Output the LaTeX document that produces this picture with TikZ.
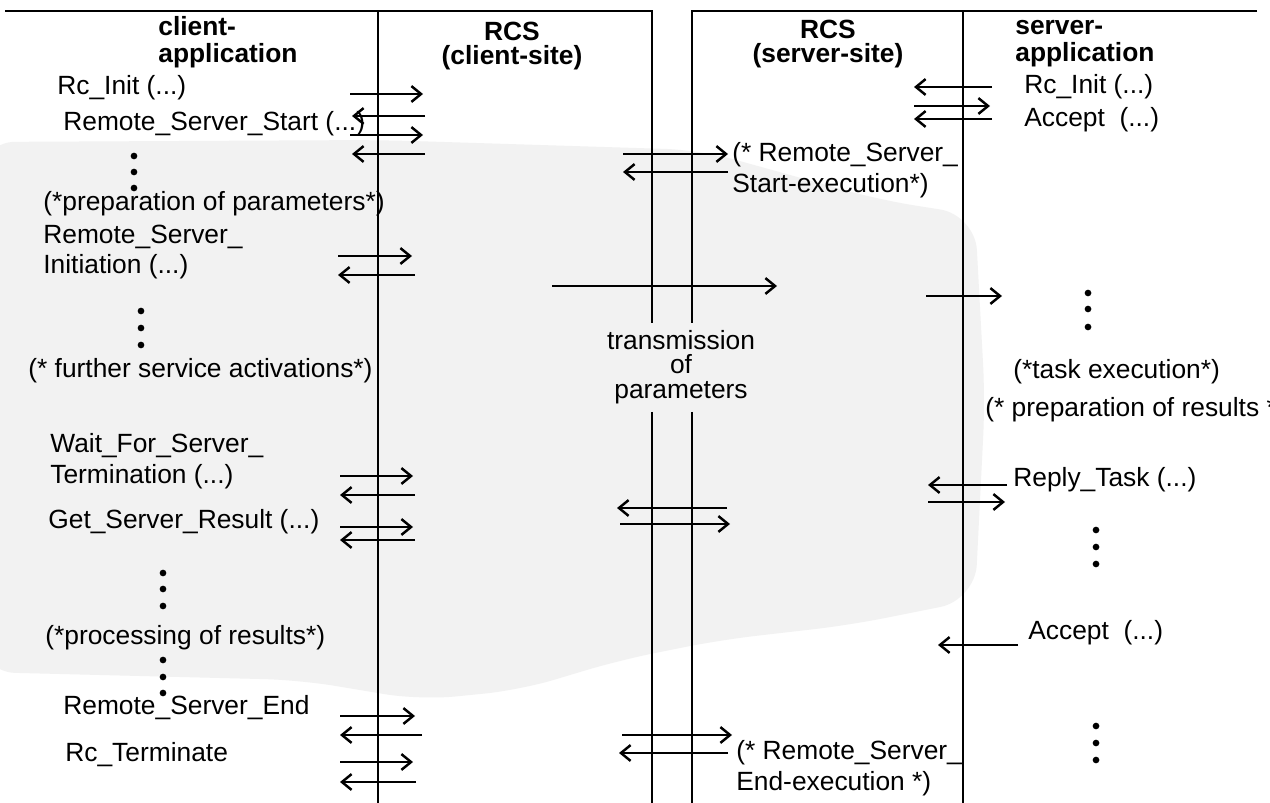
\documentclass[tikz,border=0pt]{standalone}
\usepackage{fontspec}
\setmainfont{Liberation Sans}
\usetikzlibrary{arrows.meta}

\tikzset{
  msg/.style={line width=1.4pt,-{Straight Barb[length=5.5pt,width=9pt]}},
  lane/.style={line width=1.4pt},
  txt/.style={anchor=west,inner sep=0pt,align=left,font=\fontsize{15}{17.5}\selectfont},
  head/.style={inner sep=0pt,font=\bfseries\fontsize{15}{15.5}\selectfont},
}

\begin{document}
\begin{tikzpicture}[x=0.02cm,y=-0.02cm]
\useasboundingbox (0,0) rectangle (1270,803);
\clip (0,0) rectangle (1270,803);
\fill[white] (0,0) rectangle (1270,803);
% shaded area behind the exchange
\fill[gray!10,rounded corners=20pt] (-20,142) -- (380,140) -- (700,150) -- (880,200) -- (975,215) -- (985,400) -- (975,600) -- (850,625) -- (720,640) -- (620,660) -- (520,690) -- (420,700) -- (300,680) -- (-20,672) -- cycle;
% lanes
\draw[lane] (5,11) -- (652,11) -- (652,323);
\draw[lane] (1257,11) -- (692,11) -- (692,323);
\draw[lane] (652,412) -- (652,803);
\draw[lane] (692,412) -- (692,803);
\draw[lane] (378,11) -- (378,803);
\draw[lane] (963,11) -- (963,803);
% headers
\node[head,anchor=west,align=left] (capp) at (158,42) {client-\\application};
\node[head,align=center,font=\bfseries\fontsize{15}{14}\selectfont] (crcs) at (512,46) {RCS\\(client-site)};
\node[head,align=center,font=\bfseries\fontsize{15}{14}\selectfont] (srcs) at (828,44) {RCS\\(server-site)};
\node[head,anchor=west,align=left] (sapp) at (1015,44) {server-\\application};
% client side
\node[txt] (rcinit) at (57,88) {Rc\_Init (...)};
\node[txt] (rsstart) at (63,124) {Remote\_Server\_Start (...)};
\node[txt] (prepparam) at (43,204) {(*preparation of parameters*)};
\node[txt] (rsinit) at (43,252) {Remote\_Server\_\\Initiation (...)};
\node[txt] (further) at (28,371) {(* further service activations*)};
\node[txt] (waitterm) at (50,461) {Wait\_For\_Server\_\\Termination (...)};
\node[txt] (getres) at (48,522) {Get\_Server\_Result (...)};
\node[txt] (procres) at (45,638) {(*processing of results*)};
\node[txt] (rsend) at (63,708) {Remote\_Server\_End};
\node[txt] (rcterm) at (65,755) {Rc\_Terminate};
% between the two sites
\node[txt] (startexec) at (732,170) {(* Remote\_Server\_\\Start-execution*)};
\node[txt,anchor=center,align=center,font=\fontsize{15}{14}\selectfont] (transm) at (681,367) {transmission\\of\\parameters};
\node[txt] (endexec) at (736,768) {(* Remote\_Server\_\\End-execution *)};
% server side
\node[txt] (srvinit) at (1024,87) {Rc\_Init (...)};
\node[txt] (accept) at (1024,120) {Accept~ (...)};
\node[txt] (taskexec) at (1013,372) {(*task execution*)};
\node[txt] (prepres) at (985,410) {(* preparation of results *)};
\node[txt] (reply) at (1013,480) {Reply\_Task (...)};
\node[txt] (acceptb) at (1028,633) {Accept\ \ (...)};
% dots
\foreach \x/\y in {134/156,134/172,134/188,141/311,141/328,141/345,163/573,163/589,163/606,163/660,163/677,163/693,1088/293,1088/309,1088/327,1096/530,1096/547,1096/564,1096/726,1096/743,1096/760}
  \fill (\x,\y) circle (1.9pt);
% messages
\foreach \a/\b/\y in {350/423/94,425/352/116,350/423/135,425/352/154,338/412/256,415/338/275,340/413/476,415/340/495,340/413/527,415/340/540,340/415/716,422/340/735,340/413/762,416/340/782}
  \draw[msg] (\a,\y) -- (\b,\y);
\foreach \a/\b/\y in {623/728/154,728/623/172,552/777/286,727/617/508,620/730/524,622/732/735,728/619/753}
  \draw[msg] (\a,\y) -- (\b,\y);
\foreach \a/\b/\y in {992/914/87,914/990/106,992/914/119,926/1002/296,1007/928/485,928/1005/502,1018/938/645}
  \draw[msg] (\a,\y) -- (\b,\y);
\end{tikzpicture}
\end{document}
